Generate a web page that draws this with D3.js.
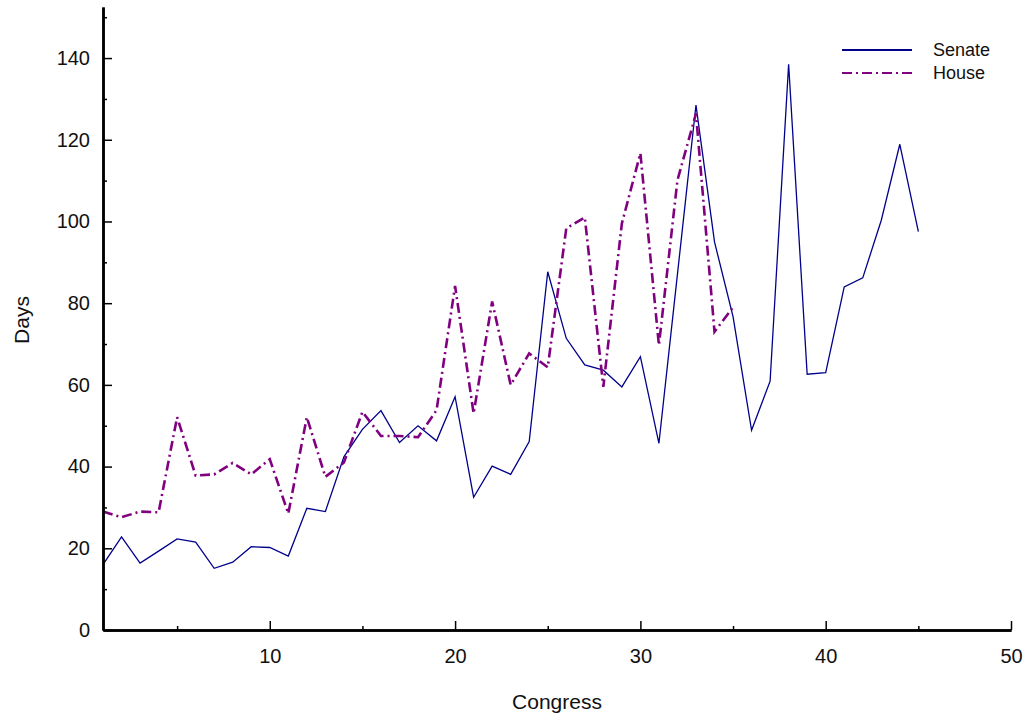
<!DOCTYPE html>
<html>
<head>
<meta charset="utf-8">
<script src="https://cdn.jsdelivr.net/npm/d3@7"></script>
<style>
  html, body { margin: 0; padding: 0; background: #fff; }
  svg { display: block; font-family: "Liberation Sans", Arial, sans-serif; }
</style>
</head>
<body>
<svg id="chart" width="1029" height="721"></svg>
<script>
// Session length in days for each Congress
const senateCongress = d3.range(1, 46);
const senateDays = [16, 22.8, 16.4, 19.3, 22.3, 21.5, 15.1, 16.6, 20.4, 20.2,
  18.1, 29.8, 29.0, 42.4, 49.1, 53.7, 45.9, 50.0, 46.3, 57.1,
  32.5, 40.1, 38.1, 46.1, 87.7, 71.4, 64.9, 63.6, 59.5, 66.9,
  45.7, 87.1, 128.5, 95.0, 76.7, 48.9, 60.9, 138.5, 62.6, 63.0,
  84.0, 86.2, 100.3, 118.9, 97.5];

const houseCongress = d3.range(1, 36);
const houseDays = [29.0, 27.6, 29.0, 28.8, 52.1, 37.8, 38.1, 40.9, 38.1, 41.8,
  28.5, 52.1, 37.5, 41.0, 53.4, 47.5, 47.5, 47.2, 53.8, 84.2,
  53.0, 80.4, 60.0, 67.7, 64.3, 98.3, 101.0, 59.5, 99.5, 116.7,
  69.7, 110.1, 126.4, 73.0, 79.0];

const xMajorTicks = [10, 20, 30, 40, 50];
const xMinorTicks = [5, 15, 25, 35, 45];
const yMajorTicks = [0, 20, 40, 60, 80, 100, 120, 140];
const yMinorTicks = [10, 30, 50, 70, 90, 110, 130, 150];

const seriesNames = ["Senate", "House"];
const seriesColors = ["#00008b", "#800080"];

const svg = d3.select("#chart");
const x = d3.scaleLinear().domain([1, 50]).range([103, 1011]);
const y = d3.scaleLinear().domain([0, 152.5]).range([630, 7]);

// Data lines
const line = d3.line().x(d => x(d[0])).y(d => y(d[1]));

svg.append("path")
  .datum(senateCongress.map((c, i) => [c, senateDays[i]]))
  .attr("d", line)
  .attr("fill", "none")
  .attr("stroke", seriesColors[0])
  .attr("stroke-width", 1.3);

svg.append("path")
  .datum(houseCongress.map((c, i) => [c, houseDays[i]]))
  .attr("d", line)
  .attr("fill", "none")
  .attr("stroke", seriesColors[1])
  .attr("stroke-width", 2.6)
  .attr("stroke-dasharray", "10,4,2,4");

// Axes with inward ticks
function styleAxis(g) {
  g.selectAll("path.domain").attr("stroke", "#000").attr("stroke-width", 2.5);
  g.selectAll(".tick line").attr("stroke", "#000").attr("stroke-width", 1.5);
  g.selectAll("text").attr("fill", "#111").style("font-size", "20px")
    .style("font-family", "'Liberation Sans', Arial, sans-serif");
}

svg.append("g")
  .attr("transform", `translate(0,${y(0)})`)
  .call(d3.axisBottom(x).tickValues(xMinorTicks).tickSize(-4).tickSizeOuter(0).tickFormat(""))
  .call(styleAxis);
svg.append("g")
  .attr("transform", `translate(0,${y(0)})`)
  .call(d3.axisBottom(x).tickValues(xMajorTicks).tickSize(-9).tickSizeOuter(0).tickPadding(19))
  .call(styleAxis);

svg.append("g")
  .attr("transform", `translate(${x(1)},0)`)
  .call(d3.axisLeft(y).tickValues(yMinorTicks).tickSize(-4).tickSizeOuter(0).tickFormat(""))
  .call(styleAxis);
svg.append("g")
  .attr("transform", `translate(${x(1)},0)`)
  .call(d3.axisLeft(y).tickValues(yMajorTicks).tickSize(-9).tickSizeOuter(0).tickPadding(13))
  .call(styleAxis);

// Axis titles
svg.append("text")
  .attr("x", 557).attr("y", 709)
  .attr("text-anchor", "middle")
  .style("font-size", "21px").attr("fill", "#111")
  .text("Congress");

svg.append("text")
  .attr("transform", "translate(29,320) rotate(-90)")
  .attr("text-anchor", "middle")
  .style("font-size", "21px").attr("fill", "#111")
  .text("Days");

// Legend
const legend = svg.append("g").attr("transform", "translate(842,50)");
seriesNames.forEach((name, i) => {
  const row = legend.append("g").attr("transform", `translate(0,${i * 23})`);
  row.append("line")
    .attr("x1", 0).attr("x2", 70).attr("y1", 0).attr("y2", 0)
    .attr("stroke", seriesColors[i])
    .attr("stroke-width", 2)
    .attr("stroke-dasharray", i === 0 ? null : "10,4,2,4");
  row.append("text")
    .attr("x", 91).attr("y", 6)
    .style("font-size", "18px").attr("fill", "#111")
    .text(name);
});
</script>
</body>
</html>
